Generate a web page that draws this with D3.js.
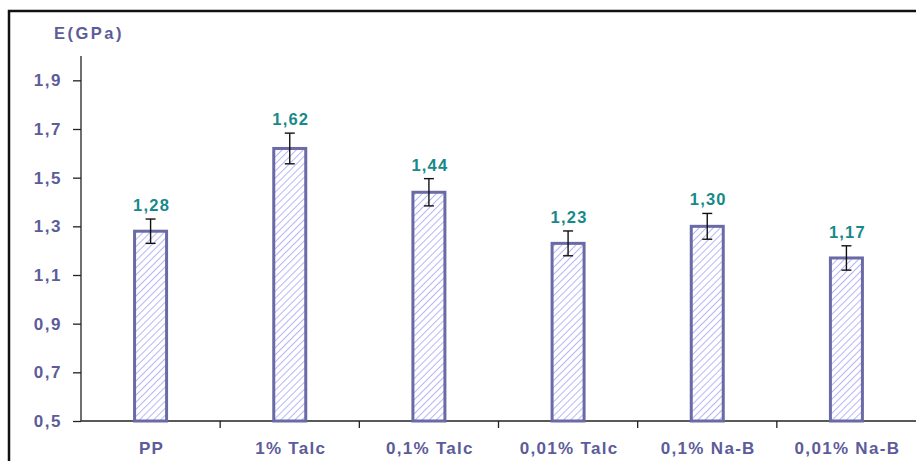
<!DOCTYPE html>
<html>
<head>
<meta charset="utf-8">
<script src="https://cdn.jsdelivr.net/npm/d3@7"></script>
<style>
  html, body { margin: 0; padding: 0; background: #fff; }
  svg { display: block; font-family: "Liberation Sans", Arial, sans-serif; }
</style>
</head>
<body>
<svg id="chart" width="916" height="461"></svg>
<script>
// Young's modulus per sample
const categories = ["PP", "1% Talc", "0,1% Talc", "0,01% Talc", "0,1% Na-B", "0,01% Na-B"];
const modulus = [1.28, 1.62, 1.44, 1.23, 1.30, 1.17];
const errors = [0.05, 0.063, 0.056, 0.051, 0.053, 0.05];
const yTicks = [0.5, 0.7, 0.9, 1.1, 1.3, 1.5, 1.7, 1.9];
const yTitle = "E(GPa)";

const svg = d3.select("#chart");
const W = 916, H = 461;
const margin = { left: 81, right: 0, top: 56, bottom: 40 };
const plotBottom = 421;

const axisColor = "#5c5c9a";
const labelColor = "#17898a";
const barStroke = "#6a6aa6";
const hatchColor = "#a4a4f6";
const comma = v => v.replace(".", ",");

// hatch fill for bars
const defs = svg.append("defs");
const pat = defs.append("pattern")
  .attr("id", "hatch")
  .attr("patternUnits", "userSpaceOnUse")
  .attr("width", 5).attr("height", 5)
  .attr("patternTransform", "rotate(45)");
pat.append("rect").attr("width", 5).attr("height", 5).attr("fill", "#fff");
pat.append("line").attr("x1", 0).attr("y1", 0).attr("x2", 0).attr("y2", 5)
  .attr("stroke", hatchColor).attr("stroke-width", 1.6);

const x = d3.scaleBand().domain(categories).range([margin.left, W]).paddingInner(0).paddingOuter(0);
const y = d3.scaleLinear().domain([0.5, 2.0]).range([plotBottom, margin.top]);

// outer frame (left and top edges)
svg.append("path")
  .attr("d", `M9,${H} L9,11 L${W},11`)
  .attr("fill", "none").attr("stroke", "#111").attr("stroke-width", 2.5);

// y axis
const yAxis = svg.append("g")
  .attr("transform", `translate(${margin.left},0)`)
  .call(d3.axisLeft(y).tickValues(yTicks).tickSize(8).tickPadding(11)
    .tickFormat(d => comma(d3.format(".1f")(d))));
yAxis.select(".domain").attr("stroke", "#222").attr("stroke-width", 1.3).attr("d", `M0,${margin.top}V${plotBottom}`);
yAxis.selectAll(".tick line").attr("stroke", "#222").attr("stroke-width", 1.3);
yAxis.selectAll(".tick text").attr("fill", axisColor).attr("font-size", 17).attr("font-weight", "bold")
  .attr("letter-spacing", 1.5).attr("font-family", "Liberation Sans, Arial, sans-serif");

// x axis
const xAxis = svg.append("g")
  .attr("transform", `translate(0,${plotBottom})`)
  .call(d3.axisBottom(x).tickSize(0).tickPadding(21));
xAxis.select(".domain").attr("stroke", "#222").attr("stroke-width", 1.3).attr("d", `M${margin.left},0H${W}`);
xAxis.selectAll(".tick text").attr("fill", axisColor).attr("font-size", 17).attr("font-weight", "bold")
  .attr("letter-spacing", 1.3).attr("dx", 1).attr("font-family", "Liberation Sans, Arial, sans-serif");
// category separators
xAxis.selectAll(".sep")
  .data(categories.slice(1))
  .join("line")
  .attr("x1", d => x(d)).attr("x2", d => x(d))
  .attr("y1", 0).attr("y2", 7)
  .attr("stroke", "#222").attr("stroke-width", 1.3);

// y title
svg.append("text")
  .attr("x", 54).attr("y", 39)
  .attr("fill", axisColor).attr("font-size", 16.5).attr("font-weight", "bold")
  .attr("letter-spacing", 2.5)
  .text(yTitle);

const barW = 32;
const data = categories.map((c, i) => ({ c, v: modulus[i], e: errors[i] }));
const cx = d => x(d.c) + x.bandwidth() / 2;

// bars
svg.append("g").selectAll("rect")
  .data(data)
  .join("rect")
  .attr("x", d => cx(d) - barW / 2)
  .attr("y", d => y(d.v))
  .attr("width", barW)
  .attr("height", d => y(0.5) - y(d.v))
  .attr("fill", "url(#hatch)")
  .attr("stroke", barStroke)
  .attr("stroke-width", 3);

// error bars
const eb = svg.append("g").selectAll("g").data(data).join("g")
  .attr("stroke", "#111").attr("stroke-width", 1.4);
eb.append("line")
  .attr("x1", cx).attr("x2", cx)
  .attr("y1", d => y(d.v + d.e)).attr("y2", d => y(d.v - d.e));
eb.append("line")
  .attr("x1", d => cx(d) - 5).attr("x2", d => cx(d) + 5)
  .attr("y1", d => y(d.v + d.e)).attr("y2", d => y(d.v + d.e));
eb.append("line")
  .attr("x1", d => cx(d) - 5).attr("x2", d => cx(d) + 5)
  .attr("y1", d => y(d.v - d.e)).attr("y2", d => y(d.v - d.e));

// value labels
svg.append("g").selectAll("text")
  .data(data)
  .join("text")
  .attr("x", d => cx(d) + 1)
  .attr("y", d => y(d.v + d.e) - 8)
  .attr("text-anchor", "middle")
  .attr("fill", labelColor).attr("font-size", 16.5).attr("font-weight", "bold")
  .attr("letter-spacing", 1.2)
  .text(d => comma(d3.format(".2f")(d.v)));
</script>
</body>
</html>
